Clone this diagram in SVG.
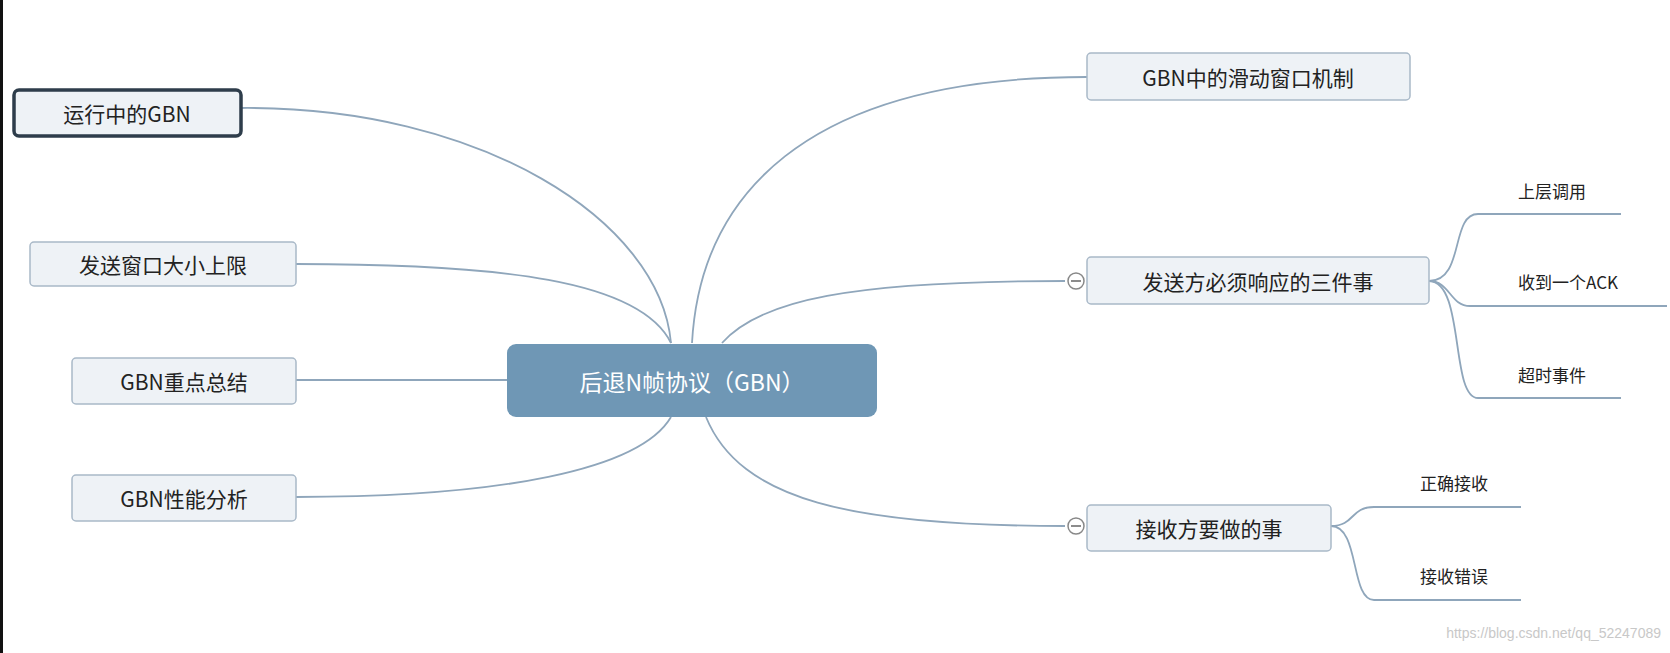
<svg xmlns="http://www.w3.org/2000/svg" width="1670" height="653" viewBox="0 0 1670 653">
<style>
text{font-family:"Noto Sans CJK SC","Liberation Sans",sans-serif;fill:#222}
.n{fill:#eef2f6;stroke:#a9b9c8;stroke-width:1.5}
.t{font-size:21px;dominant-baseline:central;text-anchor:middle}
.s{font-size:17px;dominant-baseline:central}
.c{fill:none;stroke:#8fa6bb;stroke-width:1.8}
</style>
<rect width="1670" height="653" fill="#fff"/>
<rect x="0" y="0" width="3" height="653" fill="#111"/>
<g id="connectors">
<path class="c" d="M671,343 C660,220 480,106 241,108"/>
<path class="c" d="M671,343 C640,280 500,264 296,264"/>
<path class="c" d="M507,380 H296"/>
<path class="c" d="M671,417 C640,470 500,497 296,497"/>
<path class="c" d="M692,343 C700,200 800,77 1087,77"/>
<path class="c" d="M722,343 C760,300 850,281 1065,281"/>
<path class="c" d="M706,417 C740,500 850,526 1065,526"/>
<path class="c" d="M1429,281 C1465,281 1450,214 1478,214 H1621"/>
<path class="c" d="M1429,281 C1450,281 1450,306 1470,306 H1667"/>
<path class="c" d="M1429,281 C1465,281 1450,398 1478,398 H1621"/>
<path class="c" d="M1331,526 C1355,526 1350,507 1374,507 H1521"/>
<path class="c" d="M1331,526 C1360,526 1350,600 1374,600 H1521"/>
</g>
<g id="center"><rect x="507" y="344" width="370" height="73" rx="9" fill="#6f97b5"/><text class="t" x="692" y="381" style="fill:#fff;font-size:23px">后退N帧协议（GBN）</text></g>
<g id="n1"><rect x="14" y="90" width="227" height="46" rx="5" fill="#eef2f6" stroke="#2e3d4b" stroke-width="3.5"/><text class="t" x="127" y="113">运行中的GBN</text></g>
<g id="n2"><rect class="n" x="30" y="242" width="266" height="44" rx="4"/><text class="t" x="163" y="264">发送窗口大小上限</text></g>
<g id="n3"><rect class="n" x="72" y="358" width="224" height="46" rx="4"/><text class="t" x="184" y="381">GBN重点总结</text></g>
<g id="n4"><rect class="n" x="72" y="475" width="224" height="46" rx="4"/><text class="t" x="184" y="498">GBN性能分析</text></g>
<g id="n5"><rect class="n" x="1087" y="53" width="323" height="47" rx="4"/><text class="t" x="1248" y="77">GBN中的滑动窗口机制</text></g>
<g id="n6"><rect class="n" x="1087" y="257" width="342" height="47" rx="4"/><text class="t" x="1258" y="281">发送方必须响应的三件事</text>
<circle cx="1076" cy="281" r="8" fill="#fff" stroke="#888" stroke-width="1.5"/><path d="M1071,281 H1081" stroke="#666" stroke-width="1.5"/></g>
<g id="n7"><rect class="n" x="1087" y="505" width="244" height="46" rx="4"/><text class="t" x="1209" y="528">接收方要做的事</text>
<circle cx="1076" cy="526" r="8" fill="#fff" stroke="#888" stroke-width="1.5"/><path d="M1071,526 H1081" stroke="#666" stroke-width="1.5"/></g>
<g id="s1"><text class="s" x="1518" y="190">上层调用</text></g>
<g id="s2"><text class="s" x="1518" y="281">收到一个ACK</text></g>
<g id="s3"><text class="s" x="1518" y="374">超时事件</text></g>
<g id="s4"><text class="s" x="1420" y="482">正确接收</text></g>
<g id="s5"><text class="s" x="1420" y="575">接收错误</text></g>
<text x="1661" y="638" text-anchor="end" style="font-size:14px;fill:#c8c8c8;font-family:'Liberation Sans',sans-serif">https://blog.csdn.net/qq_52247089</text>
</svg>
